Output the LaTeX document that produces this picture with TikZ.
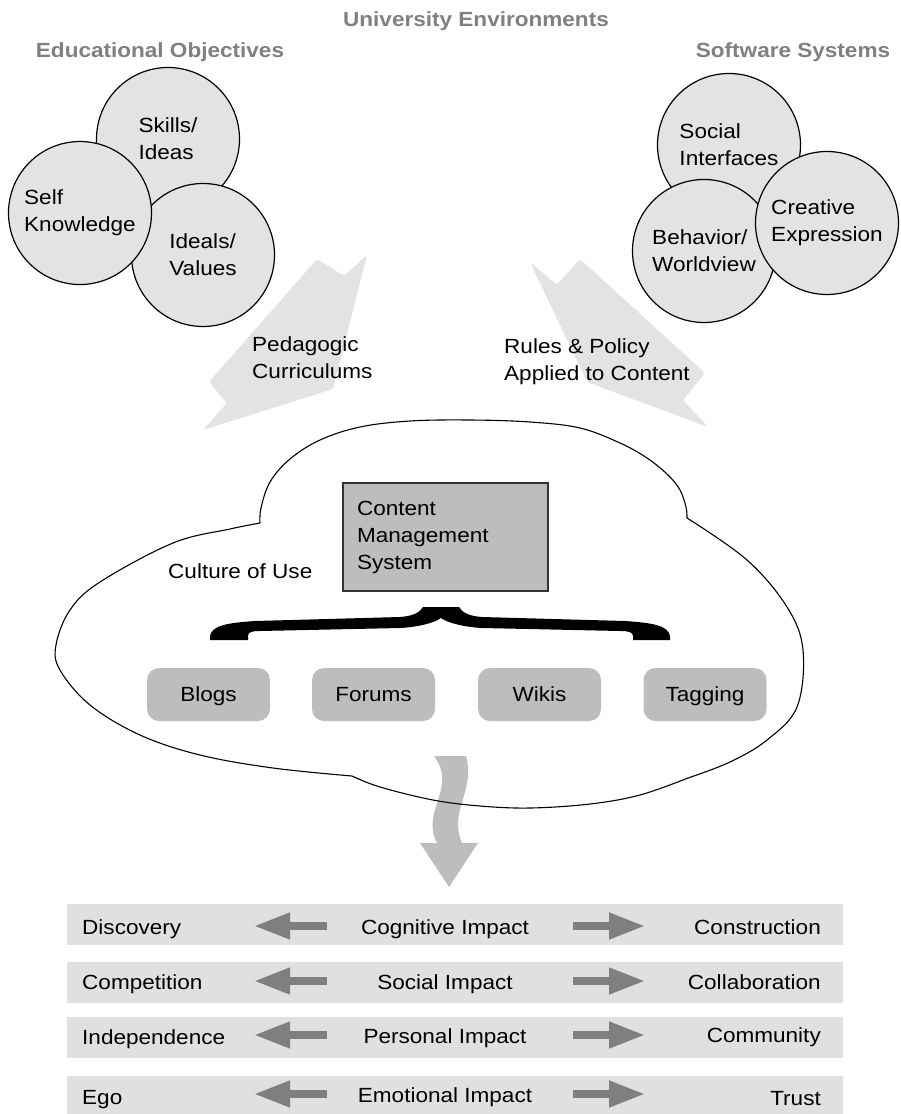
\documentclass[tikz,border=0pt]{standalone}
\usepackage{fontspec}
\setmainfont{Liberation Sans}[FakeStretch=1.1]
\usetikzlibrary{arrows.meta}
\definecolor{lightfill}{HTML}{E3E3E3}
\definecolor{boxfill}{HTML}{BDBDBD}
\definecolor{headgray}{HTML}{808080}
\definecolor{bargray}{HTML}{E0E0E0}
\definecolor{arrowgray}{HTML}{7F7F7F}
\definecolor{cmsborder}{HTML}{333333}
\begin{document}
\begin{tikzpicture}[x=1pt,y=-1pt,
  every node/.style={font=\fontsize{20.5}{27}\selectfont, inner sep=0pt},
  heading/.style={font=\fontsize{20.5}{27}\selectfont\bfseries, text=headgray},
  bubble/.style={circle, draw=black, line width=1.2pt, fill=lightfill, minimum size=143pt, align=left},
  lbl/.style={align=left},
  tool/.style={rounded corners=12pt, fill=boxfill, minimum width=123pt, minimum height=53pt, text height=14.7pt, text depth=0pt},
  bigarrow/.style={fill=lightfill, rounded corners=3pt},
  bar/.style={fill=bargray},
  rowarrow/.style={draw=arrowgray, line width=7.5pt, -{Triangle[length=36pt,width=25pt]}},
  cloudline/.style={draw=black, line width=1.1pt}
]
\useasboundingbox (0,0) rectangle (900,1114);

% headings
\node[heading, anchor=base] (univ) at (476,26) {University Environments};
\node[heading, anchor=base] (eduobj) at (160,57) {Educational Objectives};
\node[heading, anchor=base] (softsys) at (793,57) {Software Systems};

% big light arrows
\fill[bigarrow] (317,259) -- (344,276) -- (367,255) -- (333,389) -- (203,430) -- (227,403) -- (209,382) -- cycle;
\fill[bigarrow] (530,262) -- (557,285) -- (580,259) -- (705,373) -- (683,400) -- (708,427) -- (587,382) -- cycle;

% left circles
\node[bubble] (skills) at (168,139) {Skills/\\Ideas};
\node[bubble] (ideals) at (203,255) {Ideals/\\Values};
\node[bubble] (self) at (80,213) {Self\\Knowledge};

% right circles
\node[bubble] (social) at (729,145) {Social\\Interfaces};
\node[bubble] (behavior) at (704,251) {Behavior/\\Worldview};
\node[bubble] (creative) at (827,223) {Creative\\Expression};

% arrow labels
\node[lbl, anchor=west] (ped) at (252,358) {Pedagogic\\Curriculums};
\node[lbl, anchor=west] (rules) at (504,362) {Rules \& Policy\\Applied to Content};

% wavy arrow
\fill[boxfill] (434,756) -- (466,756) .. controls (476,790) and (448,812) .. (462,843)
  -- (478,843) -- (449,887) -- (420,843) -- (437,843)
  .. controls (420,812) and (458,788) .. (434,756) -- cycle;

% cloud
\draw[cloudline] plot[smooth, tension=0.6] coordinates {(260,523) (261,508) (270,482) (290,459) (320,440) (360,427) (410,421) (470,420) (530,422) (580,428) (620,443) (647,458) (668,475) (680,490) (686,507) (687,518)};
\draw[cloudline] plot[smooth, tension=0.6] coordinates {(687,518) (747,560) (787,607) (803,650) (797,707) (767,740) (730,762) (688,778)};
\draw[cloudline] plot[smooth, tension=0.6] coordinates {(688,778) (640,795) (590,804) (530,808) (480,806) (433,800) (380,787) (352,776)};
\draw[cloudline] plot[smooth, tension=0.6] coordinates {(352,776) (273,768) (200,755) (140,735) (90,705) (60,670) (56,645) (70,610) (100,582) (173,543) (230,529) (260,523)};

% CMS box
\node[fill=boxfill, draw=cmsborder, line width=1.8pt, minimum width=205pt, minimum height=108pt,
      text width=177pt, inner xsep=14pt, inner ysep=0pt, align=left] (cms) at (445.5,537)
      {Content\\Management\\System};
\node[lbl, anchor=base west] (culture) at (168,578) {Culture of Use};

% brace
\fill[black] (210,640) -- (210,636) .. controls (212,626) and (225,623) .. (255,621)
  -- (400,617) .. controls (414,616) and (420,612) .. (423,607) -- (459,607)
  .. controls (462,612) and (468,616) .. (482,617) -- (625,621)
  .. controls (655,623) and (668,626) .. (670,636) -- (670,640) -- (633,640) -- (633,636)
  .. controls (633,632) and (628,631) .. (620,631) -- (482,628)
  .. controls (462,627) and (446,622) .. (441,618)
  .. controls (436,622) and (420,627) .. (400,628) -- (260,631)
  .. controls (252,631) and (248,632) .. (248,636) -- (248,640) -- cycle;

% tool boxes
\node[tool] (blogs) at (208.5,694.5) {Blogs};
\node[tool] (forums) at (373.5,694.5) {Forums};
\node[tool] (wikis) at (539.5,694.5) {Wikis};
\node[tool] (tagging) at (705,694.5) {Tagging};

% impact bars
\fill[bar] (67,904) rectangle (843,945);
\fill[bar] (67,962) rectangle (843,1003);
\fill[bar] (67,1017) rectangle (843,1058);
\fill[bar] (67,1076) rectangle (843,1114);

\node[lbl, anchor=base west] (l1) at (82,934) {Discovery};
\node[lbl, anchor=base] (c1) at (445,934) {Cognitive Impact};
\node[lbl, anchor=base east] (r1) at (821,934) {Construction};
\node[lbl, anchor=base west] (l2) at (82,989) {Competition};
\node[lbl, anchor=base] (c2) at (445,989) {Social Impact};
\node[lbl, anchor=base east] (r2) at (821,989) {Collaboration};
\node[lbl, anchor=base west] (l3) at (82,1044) {Independence};
\node[lbl, anchor=base] (c3) at (445,1043) {Personal Impact};
\node[lbl, anchor=base east] (r3) at (821,1042) {Community};
\node[lbl, anchor=base west] (l4) at (82,1104) {Ego};
\node[lbl, anchor=base] (c4) at (445,1102) {Emotional Impact};
\node[lbl, anchor=base east] (r4) at (821,1105) {Trust};

\draw[rowarrow] (327,926) -- (254,926);
\draw[rowarrow] (573,926) -- (645,926);
\draw[rowarrow] (327,981) -- (254,981);
\draw[rowarrow] (573,981) -- (645,981);
\draw[rowarrow] (327,1035) -- (254,1035);
\draw[rowarrow] (573,1035) -- (645,1035);
\draw[rowarrow] (327,1094) -- (254,1094);
\draw[rowarrow] (573,1094) -- (645,1094);
\end{tikzpicture}
\end{document}
